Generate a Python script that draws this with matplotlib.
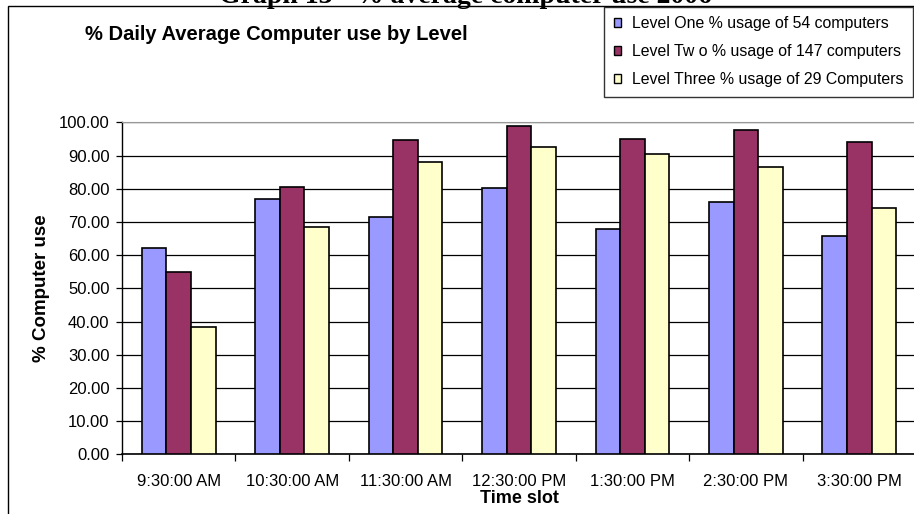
import matplotlib
matplotlib.use("Agg")
import matplotlib.pyplot as plt
from matplotlib.patches import Rectangle, Patch
import numpy as np

plt.rcParams['font.family'] = ['Liberation Sans', 'DejaVu Sans']

categories = ["9:30:00 AM", "10:30:00 AM", "11:30:00 AM", "12:30:00 PM",
              "1:30:00 PM", "2:30:00 PM", "3:30:00 PM"]
level_one = [62.0, 76.9, 71.5, 80.1, 67.9, 75.9, 65.8]
level_two = [55.0, 80.6, 94.6, 99.0, 95.1, 97.7, 94.1]
level_three = [38.3, 68.4, 88.1, 92.5, 90.4, 86.5, 74.2]
series_names = ["Level One % usage of 54 computers",
                "Level Tw o % usage of 147 computers",
                "Level Three % usage of 29 Computers"]
colors = ["#9999FF", "#993366", "#FFFFCC"]
yticks = [0, 10, 20, 30, 40, 50, 60, 70, 80, 90, 100]

W, H = 914, 514
fig = plt.figure(figsize=(W / 100, H / 100), dpi=100)

# chart-area border
fig.patches.append(Rectangle((8 / W, -0.1), 1.2, 1 - 6.5 / H + 0.1,
                             transform=fig.transFigure, fill=False,
                             edgecolor='black', linewidth=1.0, zorder=0))

ax = fig.add_axes([122 / W, (H - 454.3) / H, (916 - 122) / W, (454.3 - 122.3) / H])
x = np.arange(len(categories))
w = 0.217
for i, (vals, c) in enumerate(zip([level_one, level_two, level_three], colors)):
    ax.bar(x + (i - 1) * w, vals, width=w, color=c, edgecolor='black',
           linewidth=1.2, zorder=3)

ax.set_xlim(-0.5, len(categories) - 0.5)
ax.set_ylim(0, 100)
ax.set_yticks(yticks)
ax.set_yticklabels([f"{v:.2f}" for v in yticks], fontsize=12)
ax.yaxis.grid(True, color='black', linewidth=0.9, zorder=0)
ax.set_axisbelow(True)
ax.set_xticks(x)
ax.set_xticklabels(categories, fontsize=12)
ax.tick_params(axis='x', which='major', length=0, pad=14)
ax.set_xticks(np.arange(-0.5, len(categories) + 0.5, 1), minor=True)
ax.tick_params(axis='x', which='minor', length=5, width=0.9, direction='out')
ax.tick_params(axis='y', length=4, width=0.9, direction='out', pad=5)
ax.spines['right'].set_visible(False)
ax.spines['top'].set_color('#999999')
ax.spines['left'].set_linewidth(1.0)
ax.spines['bottom'].set_linewidth(1.2)

ax.set_ylabel("% Computer use", fontsize=13.5, fontweight='bold', labelpad=6)
ax.set_xlabel("Time slot", fontsize=13, fontweight='bold', labelpad=1)

fig.text(276 / W, 1 - 35 / H, "% Daily Average Computer use by Level",
         fontsize=14.5, fontweight='bold', ha='center', va='center')
fig.text(465 / W, 1 - 3 / H, "Graph 13 - % average computer use 2006",
         family=['Liberation Serif', 'DejaVu Serif'], fontsize=20,
         fontweight='bold', ha='center', va='baseline')

handles = [Patch(facecolor=c, edgecolor='black', linewidth=1.0) for c in colors]
leg = fig.legend(handles, series_names, loc='upper left',
                 bbox_to_anchor=(604 / W, 1 - 6.5 / H), fontsize=11.4,
                 frameon=True, fancybox=False, edgecolor='black',
                 handlelength=0.45, handleheight=0.45, handletextpad=0.7,
                 labelspacing=0.83, borderpad=0.6, borderaxespad=0)
leg.get_frame().set_linewidth(1.0)

fig.savefig("out.png", dpi=100)
